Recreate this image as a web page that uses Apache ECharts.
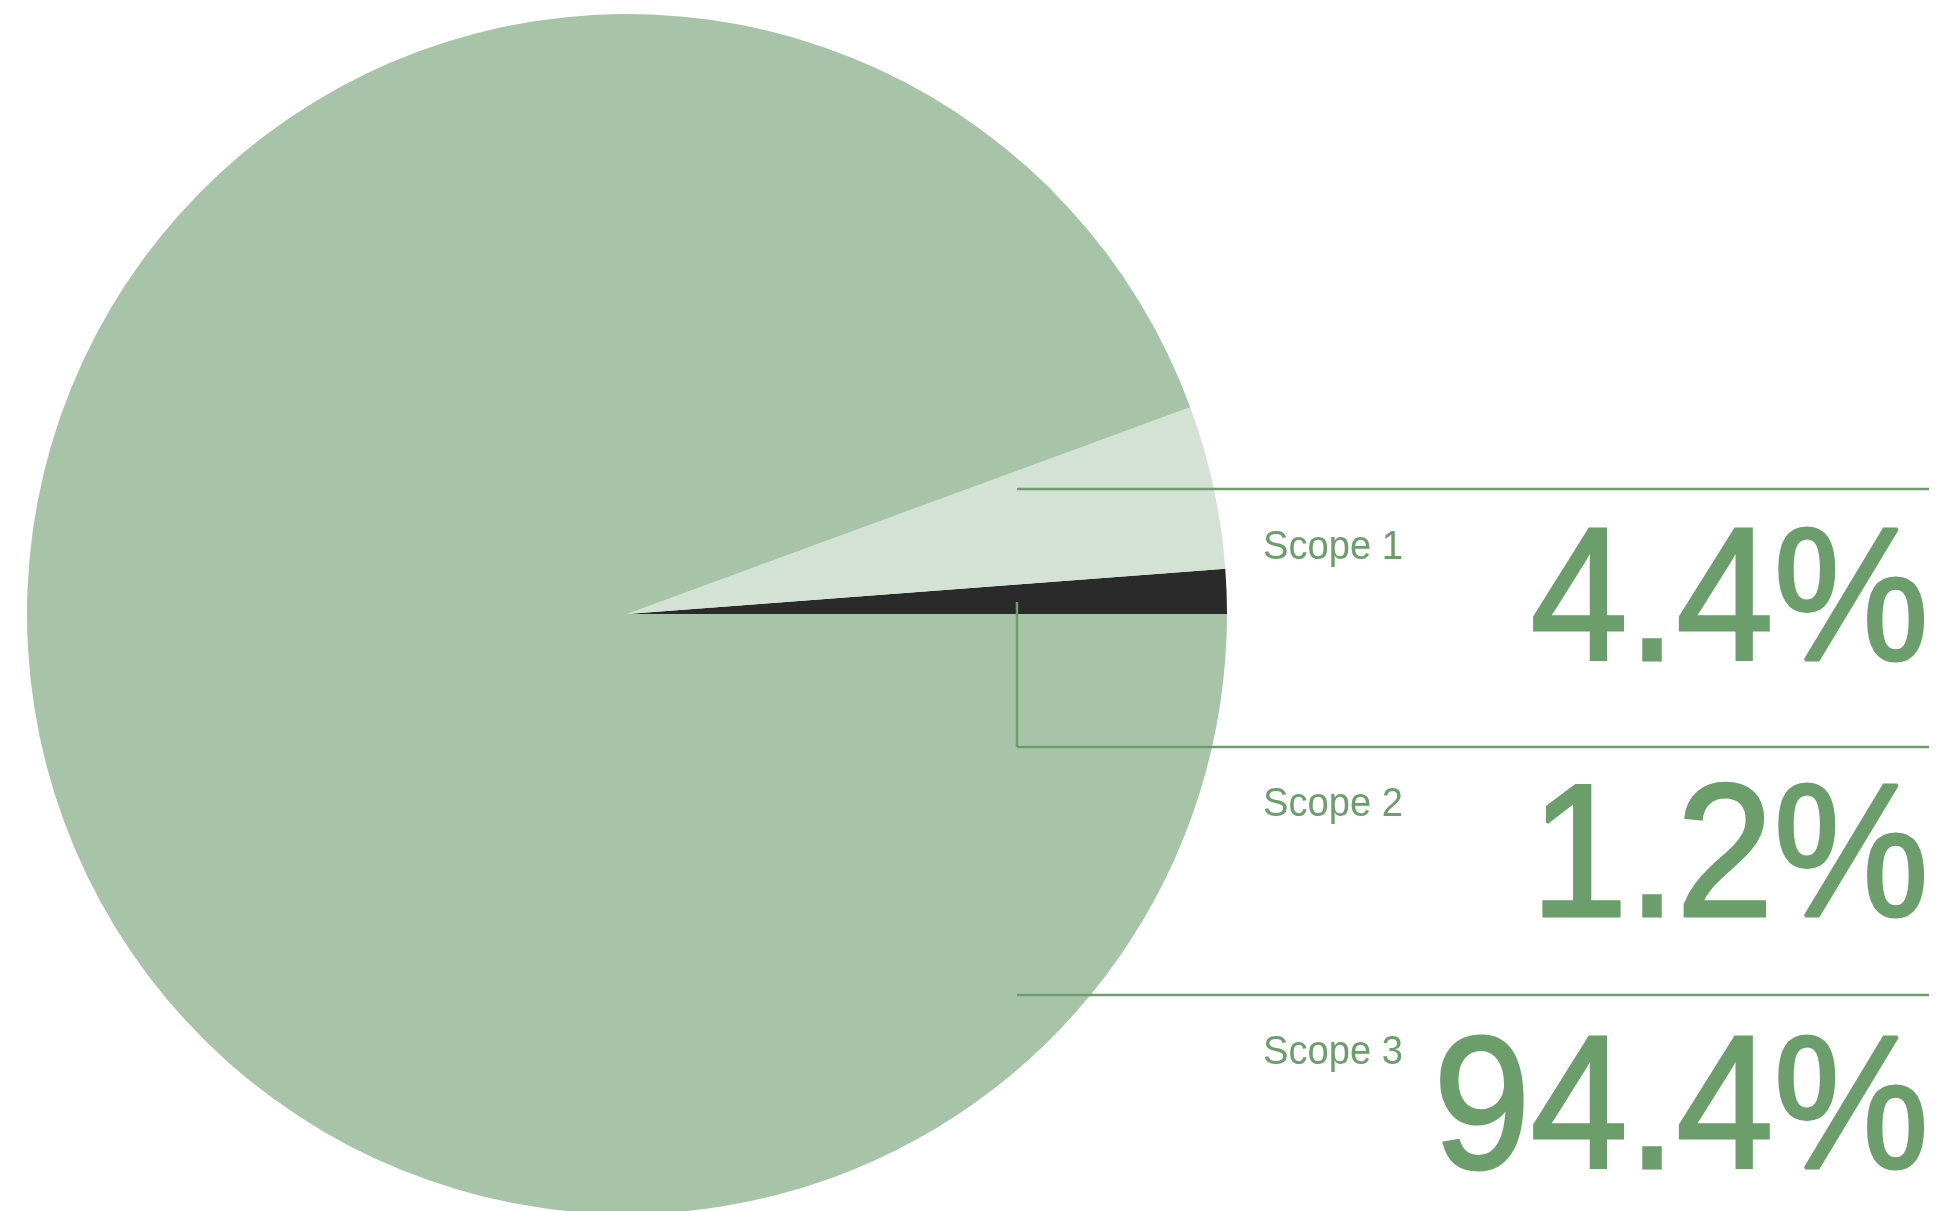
<!DOCTYPE html>
<html>
<head>
<meta charset="utf-8">
<title>Scope emissions</title>
<script src="https://cdn.jsdelivr.net/npm/echarts@6/dist/echarts.min.js"></script>
<style>
html, body { margin: 0; padding: 0; background: #ffffff; }
#ichart { width: 1937px; height: 1211px; }
</style>
</head>
<body>
<div id="ichart"></div>
<script>
// data, in drawing order (pie starts at 3 o'clock, goes counter-clockwise)
var scopeNames = ['Scope 2', 'Scope 1', 'Scope 3']
var scopeValues = [1.2, 4.4, 94.4]
var scopeColors = ['#2a2a2a', '#d3e2d5', '#a7c4a8']
// order of the rows in the legend on the right
var rowOrder = ['Scope 1', 'Scope 2', 'Scope 3']

var green = '#6b9e6b'
var font = '"Liberation Sans", Arial, Helvetica, sans-serif'

var chartDom = document.getElementById('ichart')
var myChart = echarts.init(chartDom)

// legend rows: rule line on top, small name, big percentage
var rowLineY = [489, 747, 995]
var nameBaseY = [562, 819, 1067]
var numBaseY = [662, 918, 1170]
var graphics = []

rowOrder.forEach(function (name, i) {
  var v = scopeValues[scopeNames.indexOf(name)]
  graphics.push({
    type: 'line',
    silent: true,
    z: 100,
    shape: { x1: 1017, y1: rowLineY[i], x2: 1929, y2: rowLineY[i] },
    style: { stroke: green, lineWidth: 2.5 }
  })
  graphics.push({
    type: 'text',
    silent: true,
    z: 100,
    x: 1263,
    y: nameBaseY[i] - 14,
    scaleX: 0.93,
    style: {
      text: name,
      font: '41px ' + font,
      fill: green,
      align: 'left',
      verticalAlign: 'middle'
    }
  })
  graphics.push({
    type: 'text',
    silent: true,
    z: 100,
    x: 1929,
    y: numBaseY[i] - 54,
    scaleX: 0.92,
    style: {
      text: v.toFixed(1) + '%',
      font: '190px ' + font,
      fill: green,
      stroke: green,
      lineWidth: 3,
      align: 'right',
      verticalAlign: 'middle'
    }
  })
})

// leader from the Scope 2 slice down to its row
graphics.push({
  type: 'polyline',
  silent: true,
  z: 100,
  shape: { points: [[1017, 602], [1017, 747]] },
  style: { stroke: green, lineWidth: 2.5, fill: null }
})

var option = {
  animation: false,
  backgroundColor: '#ffffff',
  series: [
    {
      type: 'pie',
      center: [627, 614],
      radius: 600,
      startAngle: 0,
      clockwise: false,
      silent: true,
      label: { show: false },
      labelLine: { show: false },
      itemStyle: { borderWidth: 0 },
      data: scopeNames.map(function (n, i) {
        return { name: n, value: scopeValues[i], itemStyle: { color: scopeColors[i] } }
      })
    }
  ],
  graphic: graphics
}

option && myChart.setOption(option)
</script>
</body>
</html>
